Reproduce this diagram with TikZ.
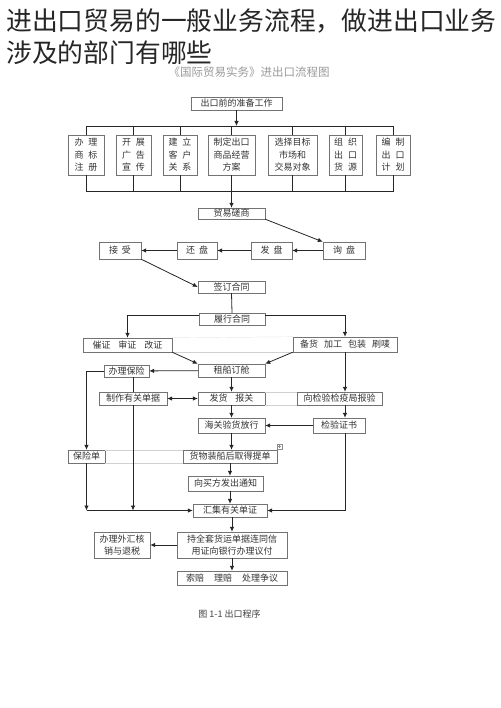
\documentclass[tikz,border=0pt]{standalone}
\usepackage{fontspec}
\setmainfont{Noto Sans CJK SC}
\usetikzlibrary{arrows.meta}

\tikzset{
  kasten/.style={draw=black!55, thin, fill=white, inner sep=0pt, align=center,
    text=black!80, font=\fontsize{9}{12.5}\selectfont},
  pfeil/.style={-{Latex[length=5pt,width=4.5pt]}, black!85, line width=0.8pt},
  linie/.style={black!85, line width=0.8pt},
  geist/.style={black!18, very thin},
}

\begin{document}
\begin{tikzpicture}[x=1pt, y=-1pt]
        \useasboundingbox (0,0) rectangle (500,708);

        % Untertitel (hinter dem Titel)
        \node[font=\fontsize{11.5}{12}\selectfont, text=black!40] (subtitle) at (249,72) {《国际贸易实务》进出口流程图};

        % Titel
        \node[anchor=base west, font=\fontsize{25.8}{32}\selectfont, text=black!85, inner sep=0pt] (title1) at (6,31) {进出口贸易的一般业务流程，做进出口业务};
        \node[anchor=base west, font=\fontsize{25.8}{32}\selectfont, text=black!85, inner sep=0pt] (title2) at (6,63) {涉及的部门有哪些};

        % Vorbereitung
        \node[kasten, minimum width=91, minimum height=13] (prep) at (236.5,103.5) {出口前的准备工作};
        \node[kasten, minimum width=36, minimum height=40] (trademark) at (86,155) {办\hspace{5pt}理\\商\hspace{5pt}标\\注\hspace{5pt}册};
        \node[kasten, minimum width=35, minimum height=40] (advert) at (133.5,155) {开\hspace{5pt}展\\广\hspace{5pt}告\\宣\hspace{5pt}传};
        \node[kasten, minimum width=34, minimum height=40] (clients) at (180,155) {建\hspace{5pt}立\\客\hspace{5pt}户\\关\hspace{5pt}系};
        \node[kasten, minimum width=47, minimum height=40] (plan) at (231.5,155) {制定出口\\商品经营\\方案};
        \node[kasten, minimum width=49, minimum height=40] (market) at (292.5,155) {选择目标\\市场和\\交易对象};
        \node[kasten, minimum width=33, minimum height=40] (supply) at (345.5,155) {组\hspace{5pt}织\\出\hspace{5pt}口\\货\hspace{5pt}源};
        \node[kasten, minimum width=34, minimum height=40] (schedule) at (393,155) {编\hspace{5pt}制\\出\hspace{5pt}口\\计\hspace{5pt}划};

        \coordinate (bus1) at (236.5,126);
        \coordinate (bus2) at (236.5,191);
        \draw[pfeil] (prep.south) -- (prep.south |- bus1);
        \draw[linie] (trademark.north) -- (trademark.north |- bus1) -- (schedule.north |- bus1) -- (schedule.north);
        \draw[linie] (trademark.south) -- (trademark.south |- bus2) -- (schedule.south |- bus2) -- (schedule.south);
        \foreach \k in {advert,clients,plan,market,supply} {
                \draw[linie] (\k.north) -- (\k.north |- bus1);
                \draw[linie] (\k.south) -- (\k.south |- bus2);
            }

        % Verhandlung
        \node[kasten, minimum width=67, minimum height=11] (talks) at (231.5,213.5) {贸易磋商};
        \node[kasten, minimum width=42, minimum height=17] (inquiry) at (344,250.5) {询\hspace{4pt}盘};
        \node[kasten, minimum width=41, minimum height=17] (offer) at (271.5,250.5) {发\hspace{4pt}盘};
        \node[kasten, minimum width=40, minimum height=17] (counter) at (197,250.5) {还\hspace{4pt}盘};
        \node[kasten, minimum width=42, minimum height=17] (accept) at (120,250.5) {接\hspace{4pt}受};
        \node[kasten, minimum width=67, minimum height=12] (signing) at (231.5,287) {签订合同};

        \draw[pfeil] (talks.north |- bus2) -- (talks.north);
        \draw[pfeil] (talks.south east) -- (inquiry.north west);
        \draw[pfeil] (inquiry) -- (offer);
        \draw[pfeil] (offer) -- (counter);
        \draw[pfeil] (counter) -- (accept);
        \draw[pfeil] (accept.south east) -- (signing.west);

        % Erfuellung
        \node[kasten, minimum width=66, minimum height=12] (perform) at (232,319) {履行合同};
        \node[kasten, minimum width=89, minimum height=14] (lc) at (127.5,345) {催证\hspace{8pt}审证\hspace{8pt}改证};
        \node[kasten, minimum width=104, minimum height=15] (goods) at (345,344.5) {备货\hspace{6pt}加工\hspace{6pt}包装\hspace{6pt}刷唛};
        \node[kasten, minimum width=67, minimum height=13] (booking) at (231.5,370.5) {租船订舱};
        \node[kasten, minimum width=45, minimum height=12] (insure) at (126.5,371) {办理保险};
        \node[kasten, minimum width=68, minimum height=13] (docs) at (133,398.5) {制作有关单据};
        \node[kasten, minimum width=67, minimum height=13] (customs) at (231.5,398.5) {发货\hspace{8pt}报关};
        \node[kasten, minimum width=85, minimum height=13] (inspect) at (339.5,398.5) {向检验检疫局报验};
        \node[kasten, minimum width=67, minimum height=15] (release) at (231.5,425.5) {海关验货放行};
        \node[kasten, minimum width=52, minimum height=15] (cert) at (339,425.5) {检验证书};
        \node[kasten, minimum width=37, minimum height=13] (policy) at (86.5,456.5) {保险单};
        \node[kasten, minimum width=94, minimum height=13] (bl) at (230,456.5) {货物装船后取得提单};
        \node[kasten, minimum width=75, minimum height=15] (notice) at (225.5,483.5) {向买方发出通知};
        \node[kasten, minimum width=74, minimum height=13] (collect) at (230,510.5) {汇集有关单证};
        \node[kasten, minimum width=110, minimum height=26, font=\fontsize{9}{11.5}\selectfont] (nego) at (232,545) {持全套货运单据连同信\\用证向银行办理议付};
        \node[kasten, minimum width=56, minimum height=26, font=\fontsize{9}{11.5}\selectfont] (forex) at (122,545) {办理外汇核\\销与退税};
        \node[kasten, minimum width=110, minimum height=14] (dispute) at (232,578) {索赔\hspace{10pt}理赔\hspace{10pt}处理争议};
        \node[text=black!75, font=\fontsize{9}{11}\selectfont] (caption) at (229.5,614) {图 1-1 出口程序};

        % blasse Tabellenlinien
        \draw[geist] (lc.north east) -- (goods.north west);
        \draw[geist] (lc.south east) -- (goods.south west);
        \draw[geist] (customs.north east) -- (inspect.north west);
        \draw[geist] (customs.south east) -- (inspect.south west);
        \draw[geist] (policy.north east) -- (bl.north west);
        \draw[geist] (policy.south east) -- (bl.south west);
        \draw[black!45, very thin] (277,444) rectangle (282,449);
        \draw[black!45, very thin] (279.5,445) -- (279.5,448) (278,446.5) -- (281,446.5);

        % Pfeile
        \draw[linie] (signing.south) -- (perform.north);
        \draw[pfeil] ([yshift=4]perform.west) -| (lc.north);
        \draw[pfeil] ([yshift=4]perform.east) -| (goods.north);
        \draw[pfeil] (lc.south east) -- (booking.north west);
        \draw[pfeil] (goods.south west) -- (booking.north east);
        \draw[pfeil] (booking) -- (insure);
        \draw[pfeil] (insure.west) -| (policy.north);
        \draw[linie] (docs.north) -- (docs.north |- insure.south);
        \draw[pfeil] (booking) -- (customs);
        \draw[{Latex[length=5pt,width=4.5pt]}-{Latex[length=5pt,width=4.5pt]}, black!85, line width=0.8pt] (docs) -- (customs);
        \draw[pfeil] (goods.south) -- (goods.south |- inspect.north);
        \draw[pfeil] (goods.south |- inspect.south) -- (goods.south |- cert.north);
        \draw[pfeil] (customs) -- (release);
        \draw[pfeil] (cert) -- (release);
        \draw[pfeil] (release) -- (release |- bl.north);
        \draw[pfeil] (bl.south) -- (bl.south |- notice.north);
        \draw[pfeil] (notice.south -| collect) -- (collect.north);
        \draw[pfeil] (policy.south) -- (policy.south |- collect.west);
        \draw[pfeil] (docs.south) -- (docs.south |- collect.west);
        \draw[pfeil] (policy.south |- collect.west) -- (collect.west);
        \draw[pfeil] (goods.south |- cert.south) |- (collect.east);
        \draw[pfeil] (collect.south -| nego) -- (nego.north);
        \draw[pfeil] (nego) -- (forex);
        \draw[pfeil] (nego) -- (dispute);

    \end{tikzpicture}
\end{document}
